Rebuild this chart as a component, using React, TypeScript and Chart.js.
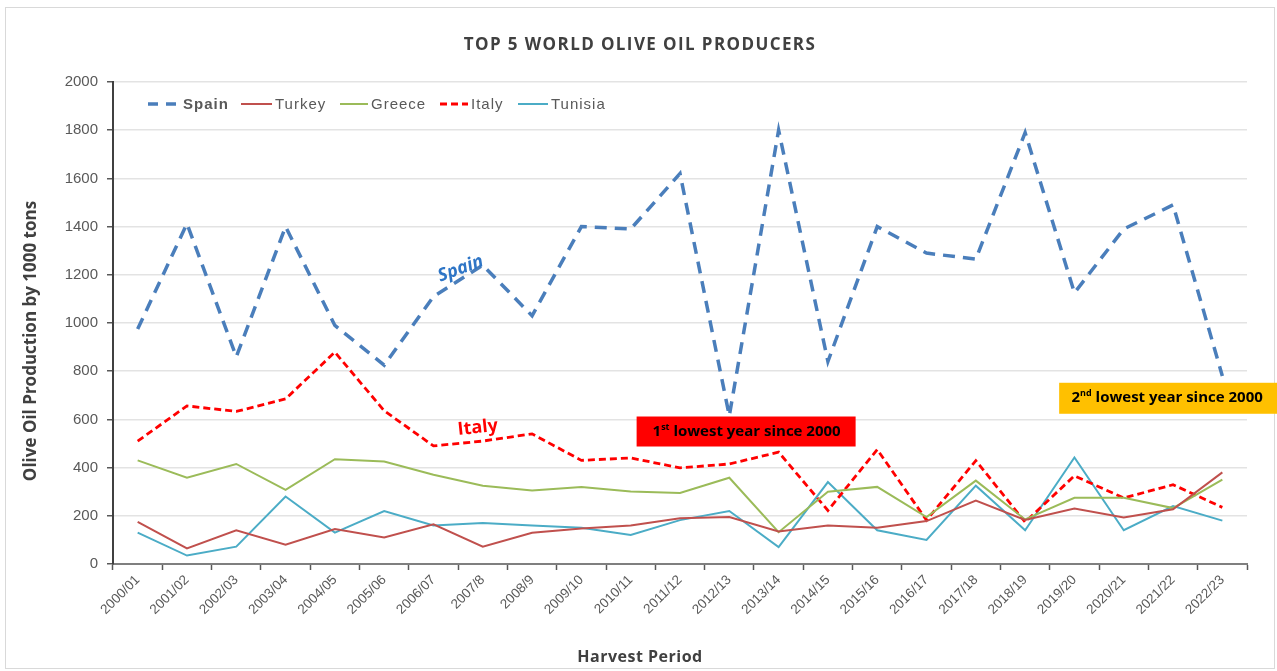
import React, { useEffect, useRef } from "react";
import { Chart, registerables } from "chart.js";

Chart.register(...registerables);

const categories = [
  "2000/01", "2001/02", "2002/03", "2003/04", "2004/05", "2005/06", "2006/07", "2007/8",
  "2008/9", "2009/10", "2010/11", "2011/12", "2012/13", "2013/14", "2014/15", "2015/16",
  "2016/17", "2017/18", "2018/19", "2019/20", "2020/21", "2021/22", "2022/23",
];

const spain = [975, 1412, 860, 1400, 990, 825, 1110, 1240, 1030, 1400, 1390, 1620, 615, 1800, 840, 1400, 1290, 1265, 1790, 1125, 1390, 1490, 780];
const turkey = [175, 65, 140, 80, 145, 110, 165, 72, 130, 147, 160, 190, 195, 135, 160, 150, 178, 263, 183, 230, 193, 227, 380];
const greece = [430, 358, 415, 308, 435, 425, 370, 325, 305, 320, 301, 295, 358, 132, 300, 320, 195, 346, 185, 275, 275, 232, 350];
const italy = [510, 656, 633, 685, 879, 636, 490, 510, 540, 430, 440, 399, 415, 464, 222, 475, 182, 429, 174, 366, 274, 329, 235];
const tunisia = [130, 35, 72, 280, 130, 220, 160, 170, 160, 150, 120, 182, 220, 70, 340, 140, 100, 325, 140, 442, 140, 240, 180];

const yTicks = [0, 200, 400, 600, 800, 1000, 1200, 1400, 1600, 1800, 2000];

const chartTitle = "TOP 5 WORLD OLIVE OIL PRODUCERS";
const xTitle = "Harvest Period";
const yTitle = "Olive Oil Production by 1000 tons";

const NARROW = "'Liberation Sans Narrow', 'Liberation Sans', Arial, sans-serif";
const BOLD = "'Open Sans', 'Liberation Sans', sans-serif";

const seriesStyles = [
  { label: "Spain", data: spain, color: "#4A7EBB", width: 3.5, dash: [12, 8] },
  { label: "Turkey", data: turkey, color: "#C0504D", width: 2, dash: [] as number[] },
  { label: "Greece", data: greece, color: "#9BBB59", width: 2, dash: [] as number[] },
  { label: "Italy", data: italy, color: "#FF0000", width: 2.8, dash: [7, 4] },
  { label: "Tunisia", data: tunisia, color: "#4BACC6", width: 2, dash: [] as number[] },
];

function drawSupText(ctx: CanvasRenderingContext2D, cx: number, cy: number, main1: string, sup: string, rest: string, size: number) {
  ctx.save();
  ctx.fillStyle = "#000";
  ctx.textBaseline = "middle";
  ctx.textAlign = "left";
  const f = `bold ${size}px 'Open Sans', 'Liberation Sans', sans-serif`;
  const fs = `bold ${Math.round(size * 0.6)}px 'Open Sans', 'Liberation Sans', sans-serif`;
  ctx.font = f;
  const w1 = ctx.measureText(main1).width;
  const w3 = ctx.measureText(rest).width;
  ctx.font = fs;
  const w2 = ctx.measureText(sup).width;
  let x = cx - (w1 + w2 + w3) / 2;
  ctx.font = f;
  ctx.fillText(main1, x, cy);
  x += w1;
  ctx.font = fs;
  ctx.fillText(sup, x, cy - size * 0.3);
  x += w2;
  ctx.font = f;
  ctx.fillText(rest, x, cy);
  ctx.restore();
}

const decorPlugin = {
  id: "decor",
  beforeDraw(chart: any) {
    const ctx = chart.ctx as CanvasRenderingContext2D;
    ctx.save();
    ctx.fillStyle = "#fff";
    ctx.fillRect(0, 0, chart.width, chart.height);
    ctx.strokeStyle = "#d9d9d9";
    ctx.lineWidth = 1;
    ctx.strokeRect(5.5, 7.5, chart.width - 8, chart.height - 10);
    ctx.restore();
  },
  afterDraw(chart: any) {
    const ctx = chart.ctx as CanvasRenderingContext2D;
    const ca = chart.chartArea;
    const xs = chart.scales.x;
    const ys = chart.scales.y;
    ctx.save();
    const anyCtx = ctx as any;
    // title
    ctx.fillStyle = "#404040";
    ctx.font = `bold 17px ${BOLD}`;
    anyCtx.letterSpacing = "1.4px";
    ctx.textAlign = "center";
    ctx.textBaseline = "middle";
    ctx.fillText(chartTitle, (ca.left + ca.right) / 2 - 40, 45);
    // x title
    ctx.font = `bold 16px ${BOLD}`;
    anyCtx.letterSpacing = "0.5px";
    ctx.fillText(xTitle, (ca.left + ca.right) / 2 - 40, 657);
    // y title
    ctx.save();
    ctx.translate(31, 341);
    ctx.rotate(-Math.PI / 2);
    ctx.font = `bold 17px ${BOLD}`;
    anyCtx.letterSpacing = "0px";
    ctx.fillText(yTitle, 0, 0);
    ctx.restore();
    anyCtx.letterSpacing = "0px";

    // legend
    const ly = ca.top + 22;
    const legendStart = [35, 128, 227, 327, 405];
    const legendLen = [32, 31, 28, 28, 30];
    ctx.textAlign = "left";
    ctx.textBaseline = "middle";
    seriesStyles.forEach((s, i) => {
      const lx = ca.left + legendStart[i];
      ctx.save();
      ctx.strokeStyle = s.color;
      ctx.lineWidth = i === 0 ? 3.5 : s.width;
      ctx.setLineDash(i === 0 ? [10, 8] : s.dash);
      ctx.beginPath();
      ctx.moveTo(lx, ly);
      ctx.lineTo(lx + legendLen[i], ly);
      ctx.stroke();
      ctx.restore();
      ctx.fillStyle = "#595959";
      ctx.font = i === 0 ? `bold 15px ${NARROW}` : `15px ${NARROW}`;
      anyCtx.letterSpacing = "1px";
      ctx.fillText(s.label, lx + legendLen[i] + 3, ly + 1);
      anyCtx.letterSpacing = "0px";
    });

    // Spain annotation
    const sx = xs.getPixelForValue(6.55);
    const sy = ys.getPixelForValue(1225);
    ctx.save();
    ctx.translate(sx, sy);
    ctx.rotate(-20 * Math.PI / 180);
    ctx.fillStyle = "#2E75C6";
    ctx.font = `bold italic 18px ${BOLD}`;
    ctx.textAlign = "center";
    ctx.fillText("Spain", 0, 0);
    ctx.restore();

    // Italy annotation
    const ix = xs.getPixelForValue(6.9);
    const iy = ys.getPixelForValue(565);
    ctx.save();
    ctx.translate(ix, iy);
    ctx.rotate(-6 * Math.PI / 180);
    ctx.fillStyle = "#FF0000";
    ctx.font = `bold 18px ${BOLD}`;
    ctx.textAlign = "center";
    ctx.fillText("Italy", 0, 0);
    ctx.restore();

    // 1st lowest box
    const b1x = xs.getPixelForValue(10.12);
    const b1y = ys.getPixelForValue(612);
    ctx.fillStyle = "#FF0000";
    ctx.fillRect(b1x, b1y, 219, 30);
    drawSupText(ctx, b1x + 110, b1y + 15, "1", "st", " lowest year since 2000", 15);

    // 2nd lowest box
    const b2x = xs.getPixelForValue(18.69);
    const b2y = ys.getPixelForValue(752);
    ctx.fillStyle = "#FFC000";
    ctx.fillRect(b2x, b2y, 240, 31);
    drawSupText(ctx, b2x + 108, b2y + 15, "2", "nd", " lowest year since 2000", 15);

    ctx.restore();
  },
};

export default function App() {
  const ref = useRef<HTMLCanvasElement>(null);
  useEffect(() => {
    document.body.style.margin = "0";
    const canvas = ref.current!;
    const chart = new Chart(canvas, {
      type: "line",
      data: {
        labels: categories,
        datasets: seriesStyles.map((s) => ({
          label: s.label,
          data: s.data,
          borderColor: s.color,
          backgroundColor: s.color,
          borderWidth: s.width,
          borderDash: s.dash,
          pointRadius: 0,
          tension: 0,
          fill: false,
        })),
      },
      options: {
        animation: false,
        responsive: false,
        maintainAspectRatio: false,
        layout: { padding: { top: 82, right: 30, left: 0, bottom: 0 } },
        plugins: {
          legend: { display: false },
          title: { display: false },
          tooltip: { enabled: false },
        },
        scales: {
          x: {
            offset: true,
            grid: {
              offset: true,
              drawOnChartArea: false,
              drawTicks: true,
              tickLength: 6,
              tickColor: "#595959",
              tickWidth: 1.5,
            },
            border: { display: true, color: "#7f7f7f", width: 2 },
            ticks: {
              color: "#595959",
              font: { family: NARROW, size: 13.5 },
              minRotation: 45,
              maxRotation: 45,
              autoSkip: false,
              padding: 2,
            },
            afterFit(scale: any) {
              scale.height = 671 - 564;
            },
          },
          y: {
            min: 0,
            max: 2000,
            afterBuildTicks(scale: any) {
              scale.ticks = yTicks.map((v) => ({ value: v }));
            },
            grid: {
              color: "#e3e3e3",
              lineWidth: 1.5,
              drawTicks: true,
              tickLength: 6,
              tickColor: "#595959",
              tickWidth: 1.5,
            },
            border: { display: true, color: "#404040", width: 2 },
            ticks: {
              color: "#595959",
              font: { family: NARROW, size: 15 },
              padding: 9,
              callback: (v: any) => String(v),
            },
            afterFit(scale: any) {
              scale.width = 113;
            },
          },
        },
      },
      plugins: [decorPlugin],
    });
    return () => chart.destroy();
  }, []);
  return (
    <div style={{ position: "absolute", left: 0, top: 0, width: 1277, height: 671 }}>
      <canvas ref={ref} width={1277} height={671} style={{ width: 1277, height: 671, display: "block" }} />
    </div>
  );
}
